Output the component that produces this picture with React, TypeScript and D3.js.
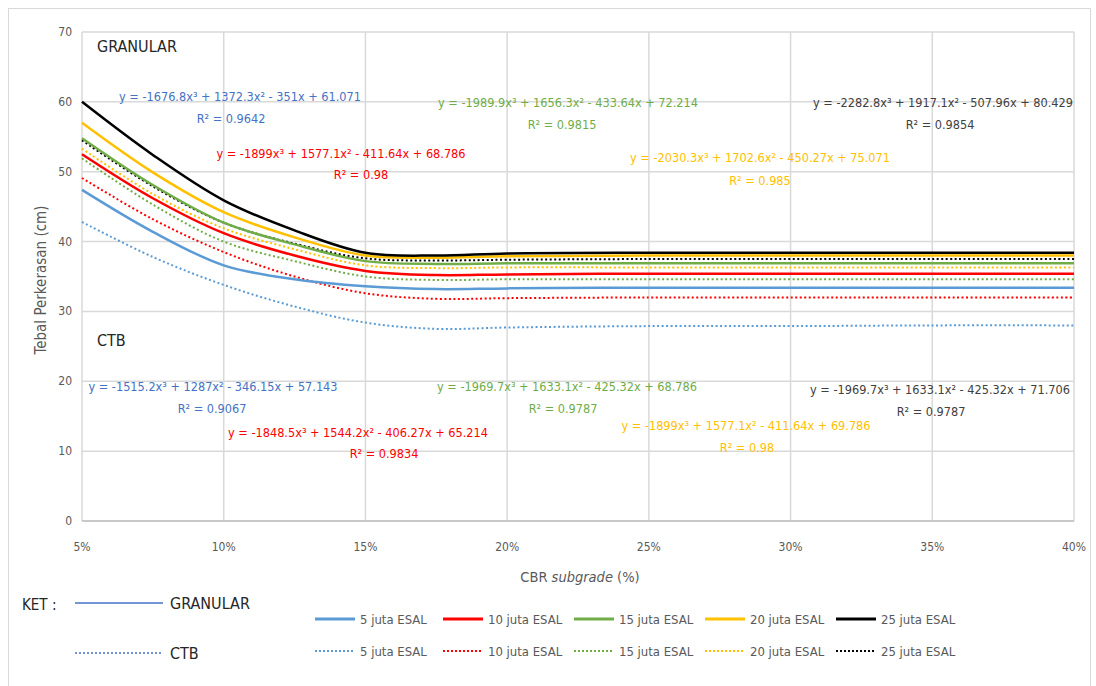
import React from "react";
import * as d3 from "d3";

// CBR subgrade (%) where the curves were read
const cbr = [5, 7.5, 10, 12.5, 15, 17.5, 20, 25, 30, 35, 40];

// GRANULAR (solid)
const gran5 = [47.4, 41.4, 36.6, 34.6, 33.6, 33.2, 33.3, 33.4, 33.4, 33.4, 33.4];
const gran10 = [52.5, 46.2, 41.2, 38.0, 35.8, 35.2, 35.3, 35.4, 35.4, 35.4, 35.4];
const gran15 = [54.8, 48.1, 42.7, 39.6, 37.2, 36.8, 36.9, 36.9, 36.9, 36.9, 36.9];
const gran20 = [57.0, 49.9, 44.2, 40.6, 38.0, 37.7, 37.9, 38.0, 38.0, 38.0, 38.0];
const gran25 = [60.0, 52.4, 45.9, 41.6, 38.4, 38.0, 38.3, 38.4, 38.4, 38.4, 38.4];

// CTB (dotted)
const ctb5 = [42.8, 37.8, 33.8, 30.7, 28.4, 27.5, 27.7, 27.9, 27.9, 28.0, 28.0];
const ctb10 = [49.1, 43.2, 38.5, 35.0, 32.6, 31.8, 31.9, 32.0, 32.0, 32.0, 32.0];
const ctb15 = [51.9, 45.3, 40.0, 37.2, 35.0, 34.5, 34.6, 34.6, 34.6, 34.6, 34.6];
const ctb20 = [53.3, 46.8, 41.9, 38.9, 36.6, 36.2, 36.3, 36.3, 36.3, 36.3, 36.3];
const ctb25 = [54.5, 47.9, 42.7, 39.7, 37.6, 37.3, 37.4, 37.5, 37.5, 37.5, 37.5];

const seriesNames = ["5 juta ESAL", "10 juta ESAL", "15 juta ESAL", "20 juta ESAL", "25 juta ESAL"];
const seriesColors = ["#5b9bd5", "#ff0000", "#70ad47", "#ffc000", "#000000"];
const eqColors = ["#4472c4", "#ff0000", "#70ad47", "#ffc000", "#404040"];

const granEq = [
  "y = -1676.8x³ + 1372.3x² - 351x + 61.071",
  "y = -1899x³ + 1577.1x² - 411.64x + 68.786",
  "y = -1989.9x³ + 1656.3x² - 433.64x + 72.214",
  "y = -2030.3x³ + 1702.6x² - 450.27x + 75.071",
  "y = -2282.8x³ + 1917.1x² - 507.96x + 80.429",
];
const granR2 = ["R² = 0.9642", "R² = 0.98", "R² = 0.9815", "R² = 0.985", "R² = 0.9854"];
const ctbEq = [
  "y = -1515.2x³ + 1287x² - 346.15x + 57.143",
  "y = -1848.5x³ + 1544.2x² - 406.27x + 65.214",
  "y = -1969.7x³ + 1633.1x² - 425.32x + 68.786",
  "y = -1899x³ + 1577.1x² - 411.64x + 69.786",
  "y = -1969.7x³ + 1633.1x² - 425.32x + 71.706",
];
const ctbR2 = ["R² = 0.9067", "R² = 0.9834", "R² = 0.9787", "R² = 0.98", "R² = 0.9787"];

const yTicks = [0, 10, 20, 30, 40, 50, 60, 70];
const xTicks = [5, 10, 15, 20, 25, 30, 35, 40];

const W = 1096;
const H = 686;
const font = "'Liberation Sans Narrow', 'Arial Narrow', 'DejaVu Sans Condensed', sans-serif";
const grey = "#595959";

// label anchors (centre of the text) in pixels
const granEqPos = [[240, 96], [341, 153], [568, 102], [760, 157], [943, 102]];
const granR2Pos = [[231, 118], [361, 174], [562, 124], [760, 180], [940, 124]];
const ctbEqPos = [[213, 386], [358, 432], [567, 386], [746, 425], [940, 389]];
const ctbR2Pos = [[212, 408], [384, 453], [563, 408], [747, 447], [931, 411]];
const legendX = [315, 443, 574, 705, 836];

export default function App() {
  const x = d3.scaleLinear().domain([5, 40]).range([82, 1074]);
  const y = d3.scaleLinear().domain([0, 70]).range([521, 32]);
  const line = d3
    .line<number>()
    .x((_, i) => x(cbr[i]))
    .y((d) => y(d))
    .curve(d3.curveCatmullRom.alpha(0.5));

  const gran = [gran5, gran10, gran15, gran20, gran25];
  const ctb = [ctb5, ctb10, ctb15, ctb20, ctb25];

  return (
    <svg width={W} height={H} style={{ position: "absolute", left: 0, top: 0 }} fontFamily={font}>
      <rect x={0} y={0} width={W} height={H} fill="#fff" />
      <rect x={8.5} y={8.5} width={1082} height={700} fill="none" stroke="#d9d9d9" />

      {/* grid */}
      {yTicks.map((t) => (
        <line key={"gy" + t} x1={82} x2={1074} y1={y(t)} y2={y(t)} stroke="#d9d9d9" strokeWidth={1.5} />
      ))}
      {xTicks.map((t) => (
        <line key={"gx" + t} x1={x(t)} x2={x(t)} y1={y(70)} y2={y(0)} stroke="#d9d9d9" strokeWidth={1.5} />
      ))}
      <line x1={82} x2={1074} y1={y(0)} y2={y(0)} stroke="#bfbfbf" strokeWidth={1.5} />

      {/* tick labels */}
      {yTicks.map((t) => (
        <text key={"ty" + t} x={72} y={y(t) + 4} textAnchor="end" fontSize={12} fill={grey}>
          {t}
        </text>
      ))}
      {xTicks.map((t) => (
        <text key={"tx" + t} x={x(t)} y={551} textAnchor="middle" fontSize={12} fill={grey}>
          {t + "%"}
        </text>
      ))}

      <text x={580} y={582} textAnchor="middle" fontSize={14.5} fill={grey}>
        CBR <tspan fontStyle="italic">subgrade</tspan> (%)
      </text>
      <text transform="translate(46,280) rotate(-90)" textAnchor="middle" fontSize={15} fill={grey}>
        Tebal Perkerasan (cm)
      </text>

      {/* CTB dotted */}
      {ctb.map((s, i) => (
        <path key={"c" + i} d={line(s) || ""} fill="none" stroke={seriesColors[i]} strokeWidth={2} strokeDasharray="2,2.5" />
      ))}
      {/* GRANULAR solid */}
      {gran.map((s, i) => (
        <path key={"g" + i} d={line(s) || ""} fill="none" stroke={seriesColors[i]} strokeWidth={2.5} />
      ))}

      <text x={97} y={52} fontSize={16} fill="#262626">GRANULAR</text>
      <text x={97} y={346} fontSize={16} fill="#262626">CTB</text>

      {/* trendline labels */}
      {granEq.map((t, i) => (
        <g key={"ge" + i} fill={eqColors[i]} fontSize={12.6} textAnchor="middle">
          <text x={granEqPos[i][0]} y={granEqPos[i][1] + 5}>{t}</text>
          <text x={granR2Pos[i][0]} y={granR2Pos[i][1] + 5}>{granR2[i]}</text>
        </g>
      ))}
      {ctbEq.map((t, i) => (
        <g key={"ce" + i} fill={eqColors[i]} fontSize={12.6} textAnchor="middle">
          <text x={ctbEqPos[i][0]} y={ctbEqPos[i][1] + 5}>{t}</text>
          <text x={ctbR2Pos[i][0]} y={ctbR2Pos[i][1] + 5}>{ctbR2[i]}</text>
        </g>
      ))}

      {/* KET legend */}
      <text x={22} y={610} fontSize={15} fill="#262626">KET :</text>
      <line x1={75} x2={163} y1={603} y2={603} stroke="#4472c4" strokeWidth={1.5} />
      <text x={170} y={609} fontSize={16} fill="#262626">GRANULAR</text>
      <line x1={75} x2={163} y1={653} y2={653} stroke="#4472c4" strokeWidth={1.5} strokeDasharray="2,2" />
      <text x={170} y={659} fontSize={16} fill="#262626">CTB</text>

      {/* series legend */}
      {seriesNames.map((n, i) => {
        const lx = legendX[i];
        return (
          <g key={"lg" + i}>
            <line x1={lx} x2={lx + 40} y1={619} y2={619} stroke={seriesColors[i]} strokeWidth={3} />
            <text x={lx + 45} y={623.5} fontSize={13} fill={grey}>{n}</text>
            <line x1={lx} x2={lx + 40} y1={651} y2={651} stroke={seriesColors[i]} strokeWidth={2} strokeDasharray="2,2" />
            <text x={lx + 45} y={655.5} fontSize={13} fill={grey}>{n}</text>
          </g>
        );
      })}
    </svg>
  );
}
